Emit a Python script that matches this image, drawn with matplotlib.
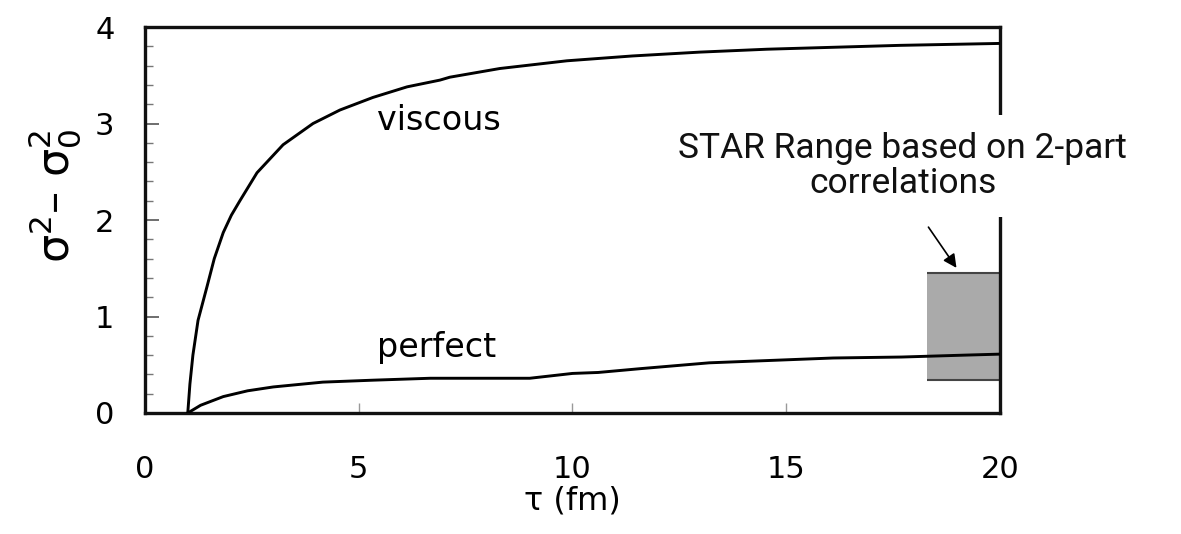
import matplotlib
matplotlib.use("Agg")
import matplotlib.pyplot as plt
from matplotlib.patches import Rectangle
from matplotlib.ticker import MultipleLocator

# Data
viscous_tau = [1.0, 1.05, 1.12, 1.24, 1.45, 1.62, 1.83, 2.02, 2.22, 2.62, 3.23, 3.93, 4.56, 5.33, 6.13, 6.9,
               7.13, 8.3, 9.87, 11.4, 12.98, 14.55, 16.1, 17.66, 20.0]
viscous_val = [0.0, 0.3, 0.6, 0.96, 1.31, 1.6, 1.87, 2.05, 2.2, 2.49, 2.78, 3.0, 3.14, 3.27, 3.38, 3.45,
               3.48, 3.57, 3.65, 3.70, 3.74, 3.77, 3.79, 3.81, 3.83]
perfect_tau = [1.0, 1.3, 1.83, 2.4, 3.0, 4.16, 5.33, 6.67, 9.0, 10.0, 10.6, 11.6, 13.2, 16.1, 17.7, 19.2, 20.0]
perfect_val = [0.0, 0.08, 0.17, 0.23, 0.27, 0.32, 0.34, 0.36, 0.36, 0.41, 0.42, 0.46, 0.52, 0.57, 0.58, 0.60, 0.61]
star_tau_range = [18.3, 20.0]
star_val_range = [0.34, 1.45]
x_ticks = [0, 5, 10, 15, 20]
y_ticks = [0, 1, 2, 3, 4]
curve_labels = ["viscous", "perfect"]

fig = plt.figure(figsize=(11.81, 5.34), dpi=100)
ax = fig.add_axes([0.1228, 0.2266, 0.8467 - 0.1228, 0.9494 - 0.2266])

ax.plot(viscous_tau, viscous_val, color="black", lw=2.1, zorder=3)
ax.plot(perfect_tau, perfect_val, color="black", lw=2.1, zorder=3)

# STAR range box
ax.add_patch(Rectangle((star_tau_range[0], star_val_range[0]),
                       star_tau_range[1] - star_tau_range[0],
                       star_val_range[1] - star_val_range[0],
                       facecolor="#aaaaaa", edgecolor="none", zorder=2))
ax.hlines(star_val_range, star_tau_range[0], star_tau_range[1], color="#444444", lw=1.5, zorder=2)

ax.set_xlim(0, 20)
ax.set_ylim(0, 4)
ax.set_xticks(x_ticks)
ax.set_yticks(y_ticks)
ax.yaxis.set_minor_locator(MultipleLocator(0.2))
ax.tick_params(axis="y", which="major", direction="in", length=10, width=1.2,
               color="#555555", labelsize=22, pad=22)
ax.tick_params(axis="y", which="minor", direction="in", length=6, width=1.0, color="#777777")
ax.tick_params(axis="x", which="major", direction="in", length=7, width=1.0,
               color="#999999", labelsize=22, pad=30)
for s in ax.spines.values():
    s.set_linewidth(2.4)
    s.set_color("#111111")

ax.set_xlabel("τ (fm)", fontsize=23, labelpad=1)
fig.text(0.046, 0.633, r"$\mathrm{\sigma}^2$– $\mathrm{\sigma}_0^2$", rotation=90, fontsize=32,
         ha="center", va="center")

ax.text(5.43, 3.03, curve_labels[0], fontsize=24, ha="left", va="center")
ax.text(5.43, 0.68, curve_labels[1], fontsize=24, ha="left", va="center")

ax.annotate("", xy=(19.02, 1.48), xytext=(18.29, 1.95),
            arrowprops=dict(arrowstyle="-|>", color="black", lw=1.2, mutation_scale=20),
            zorder=4)
ax.text(17.73, 2.56, "STAR Range based on 2-part\ncorrelations", fontsize=25.5,
        family="Roboto", fontweight="normal", color="#111111", ha="center", va="center",
        linespacing=1.1, clip_on=False, zorder=6,
        bbox=dict(facecolor="white", edgecolor="none", pad=12))

fig.savefig("out.png", dpi=100)
